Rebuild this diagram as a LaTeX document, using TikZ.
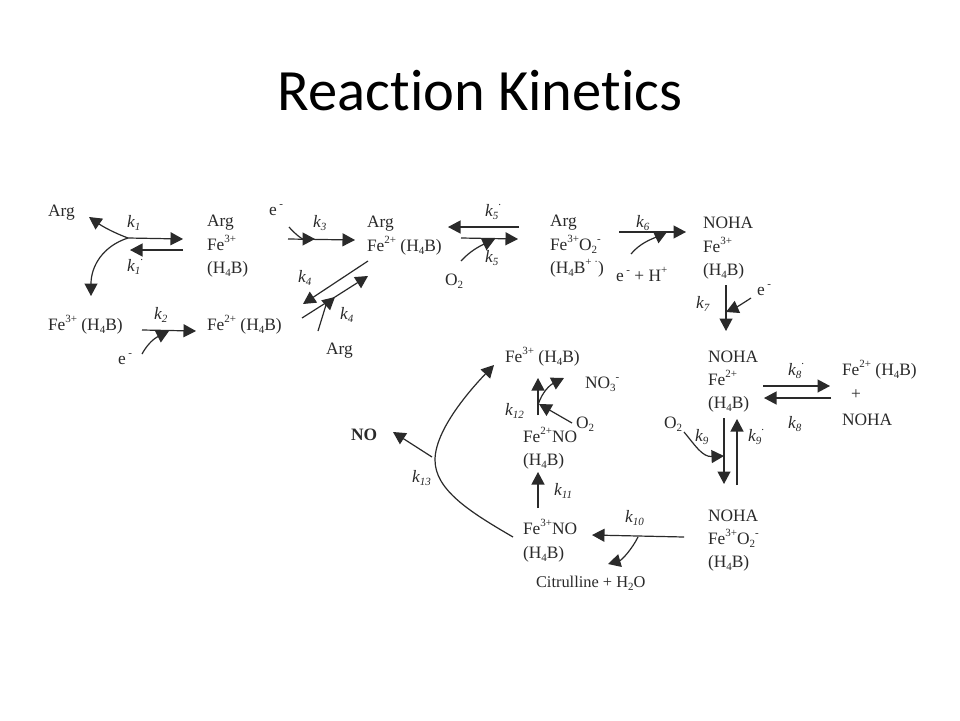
\documentclass[tikz,border=0pt]{standalone}
\usepackage{fontspec}
\setmainfont{Liberation Serif}
\newfontfamily\titlefont[Ligatures=NoCommon]{Carlito}
\usetikzlibrary{arrows.meta}
\definecolor{ink}{HTML}{2A2A2A}
\newcommand{\up}[1]{\raisebox{0.42em}{\fontsize{11}{12}\selectfont #1}}
\newcommand{\dn}[1]{\raisebox{-0.2em}{\fontsize{11}{12}\selectfont #1}}
\newcommand{\kk}[2][]{\textit{k}\raisebox{-0.2em}{\fontsize{11}{12}\selectfont\textit{#2}}\raisebox{0.6em}{\fontsize{11}{12}\selectfont #1}}
\newcommand{\HB}{(H\dn{4}B)}
\tikzset{
  x=1pt,y=-1pt,
  chem/.style={anchor=base west,inner sep=0pt,outer sep=0pt,text=ink,font=\fontsize{17.4}{23.5}\selectfont,align=left},
  rate/.style={anchor=base west,inner sep=0pt,outer sep=0pt,text=ink,font=\fontsize{17.4}{19}\selectfont},
  arr/.style={draw=ink,line width=1.2pt,-{Triangle[length=12.5pt,width=13pt]}},
}
\begin{document}
\begin{tikzpicture}
\useasboundingbox (0,0) rectangle (960,720);
\fill[white] (0,0) rectangle (960,720);
\node[anchor=base,inner sep=0pt,font=\titlefont\fontsize{58.5}{62}\selectfont,text=black] (title) at (480,110) {Reaction Kinetics};

% species
\node[chem] (argfree) at (48,216) {Arg};
\node[chem] (argfe3a) at (207,226) {Arg};
\node[chem] (argfe3b) at (207,250) {Fe\up{3+}};
\node[chem] (argfe3c) at (207,273) {\HB};
\node[chem] (fe3) at (48,330) {Fe\up{3+} \HB};
\node[chem] (fe2) at (207,330) {Fe\up{2+} \HB};
\node[chem] (e1) at (118,364) {e\up{ -}};
\node[chem] (e2) at (269,215) {e\up{ -}};
\node[chem] (arg2) at (326,354) {Arg};
\node[chem] (argfe2a) at (367,227) {Arg};
\node[chem] (argfe2b) at (367,251) {Fe\up{2+} \HB};
\node[chem] (o2a) at (445,285) {O\dn{2}};
\node[chem] (argoxa) at (550,226) {Arg};
\node[chem] (argoxb) at (550,250) {Fe\up{3+}O\dn{2}\up{-}};
\node[chem] (argoxc) at (550,273) {(H\dn{4}B\up{+ ·})};
\node[chem] (eh) at (616,281) {e\up{ -} + H\up{+}};
\node[chem] (nohaa) at (703,228) {NOHA};
\node[chem] (nohab) at (703,252) {Fe\up{3+}};
\node[chem] (nohac) at (703,275) {\HB};
\node[chem] (e3) at (757,295) {e\up{ -}};
\node[chem] (noh2a) at (708,362) {NOHA};
\node[chem] (noh2b) at (708,385) {Fe\up{2+}};
\node[chem] (noh2c) at (708,408) {\HB};
\node[chem] (fe2r) at (842,375) {Fe\up{2+} \HB};
\node[chem] (plus) at (851,399) {+};
\node[chem] (nohar) at (842,425) {NOHA};
\node[chem] (o2b) at (664,428) {O\dn{2}};
\node[chem] (noh3a) at (708,521) {NOHA};
\node[chem] (noh3b) at (708,544) {Fe\up{3+}O\dn{2}\up{-}};
\node[chem] (noh3c) at (708,567) {\HB};
\node[chem] (fe3no) at (523,534) {Fe\up{3+}NO};
\node[chem] (fe3noh) at (523,558) {\HB};
\node[chem,font=\fontsize{16.4}{23.5}\selectfont] (citr) at (536,587) {Citrulline + H\dn{2}O};
\node[chem] (fe2no) at (523,442) {Fe\up{2+}NO};
\node[chem] (fe2noh) at (523,465) {\HB};
\node[chem] (o2c) at (576,428) {O\dn{2}};
\node[chem] (no3) at (585,388) {NO\dn{3}\up{-}};
\node[chem] (fe3top) at (505,362) {Fe\up{3+} \HB};
\node[chem,font=\fontsize{17.4}{23.5}\bfseries\selectfont] (no) at (351,440) {NO};

% rate constants
\node[rate] (k1) at (127,227) {\kk{1}};
\node[rate] (k1p) at (127,271) {\kk[.]{1}};
\node[rate] (k2) at (154,319) {\kk{2}};
\node[rate] (k3) at (313,227) {\kk{3}};
\node[rate] (k4a) at (298,282) {\kk{4}};
\node[rate] (k4b) at (340,319) {\kk{4}};
\node[rate] (k5p) at (485,216) {\kk[.]{5}};
\node[rate] (k5) at (485,262) {\kk{5}};
\node[rate] (k6) at (636,227) {\kk{6}};
\node[rate] (k7) at (696,308) {\kk{7}};
\node[rate] (k8p) at (788,375) {\kk[.]{8}};
\node[rate] (k8) at (788,428) {\kk{8}};
\node[rate] (k9) at (695,441) {\kk{9}};
\node[rate] (k9p) at (748,441) {\kk[.]{9}};
\node[rate] (k10) at (625,522) {\kk{10}};
\node[rate] (k11) at (554,495) {\kk{11}};
\node[rate] (k12) at (505,415) {\kk{12}};
\node[rate] (k13) at (412,482) {\kk{13}};

% anchors of the connectors
\coordinate (b1) at (128,238);
\coordinate (t1r) at (183,239);
\coordinate (t1u) at (89,217);
\coordinate (t1d) at (91,296);
\coordinate (s1p) at (183,250);
\coordinate (t1p) at (130,250);
\coordinate (s2) at (142,330);
\coordinate (t2) at (196,331);
\coordinate (s2e) at (142,354);
\coordinate (t2e) at (169,331);
\coordinate (s3) at (288,239);
\coordinate (t3) at (355,240);
\coordinate (s3e) at (289,227);
\coordinate (t3e) at (315,239);
\coordinate (s4a) at (368,261);
\coordinate (t4a) at (303,304);
\coordinate (s4b) at (302,318);
\coordinate (t4b) at (368,276);
\coordinate (s4e) at (318,331);
\coordinate (t4e) at (335,297);
\coordinate (s5p) at (519,227);
\coordinate (t5p) at (448,227);
\coordinate (s5) at (461,238);
\coordinate (t5) at (518,239);
\coordinate (s5e) at (461,261);
\coordinate (t5e) at (495,239);
\coordinate (s6) at (619,232);
\coordinate (t6) at (686,232);
\coordinate (s6e) at (631,254);
\coordinate (t6e) at (667,232);
\coordinate (s7) at (726,285);
\coordinate (t7) at (726,331);
\coordinate (s7e) at (751,298);
\coordinate (t7e) at (726,312);
\coordinate (s8p) at (763,386);
\coordinate (t8p) at (830,386);
\coordinate (s8) at (831,398);
\coordinate (t8) at (764,398);
\coordinate (s9) at (724,418);
\coordinate (t9) at (724,484);
\coordinate (s9p) at (737,485);
\coordinate (t9p) at (737,419);
\coordinate (s9e) at (684,432);
\coordinate (t9e) at (724,456);
\coordinate (s10) at (684,537);
\coordinate (t10) at (592,535);
\coordinate (b10) at (638,537);
\coordinate (t10c) at (608,564);
\coordinate (s11) at (538,508);
\coordinate (t11) at (538,472);
\coordinate (s12) at (538,415);
\coordinate (t12) at (538,378);
\coordinate (b12) at (538,405);
\coordinate (t12n) at (564,378);
\coordinate (s12o) at (572,423);
\coordinate (t12o) at (539,404);
\coordinate (s13) at (513,537);
\coordinate (m13) at (435,460);
\coordinate (t13) at (494,365);
\coordinate (s13n) at (432,457);
\coordinate (t13n) at (393,432);

% connectors
\draw[arr] (b1) -- (t1r);
\draw[arr] (b1) .. controls (112,232) and (102,226) .. (t1u);
\draw[arr] (b1) .. controls (103,246) and (91,266) .. (t1d);
\draw[arr] (s1p) -- (t1p);
\draw[arr] (s2) -- (t2);
\draw[arr] (s2e) .. controls (148,343) and (155,338) .. (t2e);
\draw[arr] (s3) -- (t3);
\draw[arr] (s3e) .. controls (295,234) and (302,239) .. (t3e);
\draw[arr] (s4a) -- (t4a);
\draw[arr] (s4b) -- (t4b);
\draw[arr] (s4e) .. controls (322,318) and (326,305) .. (t4e);
\draw[arr] (s5p) -- (t5p);
\draw[arr] (s5) -- (t5);
\draw[arr] (s5e) .. controls (470,251) and (480,246) .. (t5e);
\draw[arr] (s6) -- (t6);
\draw[arr] (s6e) .. controls (640,243) and (652,239) .. (t6e);
\draw[arr] (s7) -- (t7);
\draw[arr] (s7e) .. controls (742,304) and (735,308) .. (t7e);
\draw[arr] (s8p) -- (t8p);
\draw[arr] (s8) -- (t8);
\draw[arr] (s9) -- (t9);
\draw[arr] (s9p) -- (t9p);
\draw[arr] (s9e) .. controls (695,445) and (702,457) .. (t9e);
\draw[arr] (s10) -- (t10);
\draw[arr] (b10) .. controls (632,549) and (622,560) .. (t10c);
\draw[arr] (s11) -- (t11);
\draw[arr] (s12) -- (t12);
\draw[arr] (b12) .. controls (542,392) and (550,385) .. (t12n);
\draw[arr] (s12o) -- (t12o);
\draw[arr] (s13) .. controls (470,512) and (435,490) .. (m13) .. controls (435,430) and (470,390) .. (t13);
\draw[arr] (s13n) -- (t13n);
\end{tikzpicture}
\end{document}
